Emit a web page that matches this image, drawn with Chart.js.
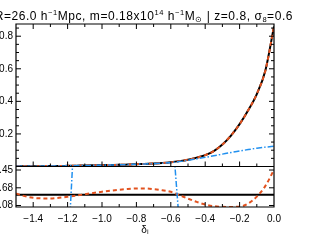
<!DOCTYPE html>
<html>
<head>
<meta charset="utf-8">
<script src="https://cdn.jsdelivr.net/npm/chart.js@4.4.1/dist/chart.umd.min.js"></script>
<style>
  html, body { margin: 0; padding: 0; background: #fff; overflow: hidden; }
  #wrap { position: absolute; left: -12px; top: 0; width: 325px; height: 248px; }
</style>
</head>
<body>
<div id="wrap"><canvas id="chart" width="325" height="248"></canvas></div>
<script>
// linear density contrast grid (x axis)
const deltaL = [-1.5, -1.45, -1.4, -1.35, -1.3, -1.25, -1.2, -1.15, -1.1, -1.05, -1.0,
  -0.95, -0.9, -0.85, -0.8, -0.75, -0.7, -0.65, -0.6, -0.55, -0.5,
  -0.45, -0.4, -0.35, -0.3, -0.25, -0.2, -0.15, -0.1, -0.05, 0];

// upper panel
const blackUpper = [0.001, 0.001, 0.002, 0.002, 0.003, 0.003, 0.004, 0.005, 0.006, 0.007, 0.008,
  0.009, 0.010, 0.012, 0.014, 0.016, 0.018, 0.021, 0.026, 0.033, 0.042,
  0.054, 0.070, 0.095, 0.135, 0.190, 0.260, 0.345, 0.445, 0.590, 0.860];
const redUpper = [0.001, 0.001, 0.002, 0.002, 0.003, 0.003, 0.004, 0.005, 0.006, 0.007, 0.008,
  0.009, 0.010, 0.012, 0.014, 0.016, 0.018, 0.021, 0.026, 0.033, 0.042,
  0.054, 0.070, 0.095, 0.135, 0.190, 0.260, 0.345, 0.445, 0.590, 0.860];
const blueUpper = [0.001, 0.001, 0.002, 0.002, 0.003, 0.003, 0.004, 0.005, 0.006, 0.007, 0.008,
  0.009, 0.010, 0.012, 0.014, 0.016, 0.018, 0.020, 0.024, 0.030, 0.038,
  0.047, 0.056, 0.066, 0.076, 0.086, 0.095, 0.104, 0.112, 0.119, 0.124];

// lower panel (residuals)
const redLower = [0.12, -0.15, -0.32, -0.37, -0.38, -0.32, -0.22, -0.10, 0.04, 0.17, 0.29,
  0.40, 0.48, 0.56, 0.61, 0.62, 0.55, 0.44, 0.28, -0.05, -0.40,
  -0.72, -0.98, -1.15, -1.21, -1.22, -1.20, -0.89, -0.20, 0.87, 2.47];
const blueLowerX = [-1.5, -1.185, -1.170, -0.578, -0.556, 0];
const blueLowerY = [-4, -1.6, 3.3, 3.3, -1.6, -4];
const zeroX = [-1.5, 0];
const zeroY = [0, 0];

// tick labels
const xTicks = [-1.4, -1.2, -1.0, -0.8, -0.6, -0.4, -0.2, 0];
const yTicksTop = [0.2, 0.4, 0.6, 0.8];
const yTicksBottom = [2.45, 0.68, -1.08];

const SHIFT = 12; // canvas is pushed left so labels get cut like the original
const RED = '#e2521f';
const BLUE = '#2190ef';
const FONT = '"Liberation Sans", Arial, Helvetica, sans-serif';

const pts = (xs, ys) => xs.map((x, i) => ({ x: x, y: ys[i] }));

// box + inward tick marks
const framePlugin = {
  id: 'frame',
  afterDatasetsDraw(chart) {
    const { ctx } = chart;
    const { x, y, y2 } = chart.scales;
    const L = x.left, R = x.right;
    ctx.save();
    ctx.strokeStyle = '#000';
    ctx.lineWidth = 1.2;
    ctx.beginPath();
    ctx.rect(L, y.top, R - L, y.bottom - y.top);
    ctx.rect(L, y2.top, R - L, y2.bottom - y2.top);
    ctx.stroke();

    ctx.lineWidth = 1;
    ctx.beginPath();
    for (let k = -14; k <= -1; k++) {
      const px = x.getPixelForValue(k / 10);
      const len = k % 2 === 0 ? 5 : 3;
      ctx.moveTo(px, y.top); ctx.lineTo(px, y.top + len);
      ctx.moveTo(px, y.bottom); ctx.lineTo(px, y.bottom - len);
      ctx.moveTo(px, y2.bottom); ctx.lineTo(px, y2.bottom - len);
    }
    for (let k = 1; k <= 17; k++) {
      const py = y.getPixelForValue(k * 0.05);
      const len = k % 4 === 0 ? 5 : 3;
      ctx.moveTo(L, py); ctx.lineTo(L + len, py);
      ctx.moveTo(R, py); ctx.lineTo(R - len, py);
    }
    yTicksBottom.forEach(v => {
      const py = y2.getPixelForValue(v);
      ctx.moveTo(L, py); ctx.lineTo(L + 5, py);
      ctx.moveTo(R, py); ctx.lineTo(R - 5, py);
    });
    ctx.stroke();
    ctx.restore();
  }
};

// title with super/subscripts
const titleParts = [
  ['R=26.0 h', ''], ['\u22121', 'sup'], ['Mpc, m=0.18x10', ''], ['14', 'sup'],
  [' h', ''], ['\u22121', 'sup'], ['M', ''], ['\u2299', 'sub'],
  [' | z=0.8, \u03c3', ''], ['8', 'sub'], ['=0.6', '']
];
const titlePlugin = {
  id: 'richTitle',
  afterDraw(chart) {
    const ctx = chart.ctx;
    const big = '12px ' + FONT, small = '7.5px ' + FONT;
    ctx.save();
    ctx.letterSpacing = '0.55px';
    let w = 0;
    titleParts.forEach(p => { ctx.font = p[1] ? small : big; w += ctx.measureText(p[0]).width; });
    let xPos = 293 + SHIFT - w;
    const base = 20;
    ctx.fillStyle = '#000';
    ctx.textBaseline = 'alphabetic';
    titleParts.forEach(p => {
      ctx.font = p[1] ? small : big;
      const yy = p[1] === 'sup' ? base - 5 : p[1] === 'sub' ? base + 2 : base;
      ctx.fillText(p[0], xPos, yy);
      xPos += ctx.measureText(p[0]).width;
    });
    ctx.restore();
  }
};

const tickFont = { family: FONT, size: 10 };
const noGrid = { display: false, drawTicks: false, tickLength: 0 };

new Chart(document.getElementById('chart'), {
  type: 'line',
  data: {
    datasets: [
      { data: pts(deltaL, blueUpper), yAxisID: 'y', borderColor: BLUE, borderWidth: 1.5, borderDash: [6, 2, 1.5, 2], order: 1 },
      { data: pts(deltaL, redUpper), yAxisID: 'y', borderColor: RED, borderWidth: 2, borderDash: [4, 3], order: 2 },
      { data: pts(deltaL, blackUpper), yAxisID: 'y', borderColor: '#000', borderWidth: 2, order: 3 },
      { data: pts(blueLowerX, blueLowerY), yAxisID: 'y2', borderColor: BLUE, borderWidth: 1.5, borderDash: [6, 2, 1.5, 2], tension: 0, cubicInterpolationMode: 'default', order: 4 },
      { data: pts(deltaL, redLower), yAxisID: 'y2', borderColor: RED, borderWidth: 2, borderDash: [4, 3], order: 5 },
      { data: pts(zeroX, zeroY), yAxisID: 'y2', borderColor: '#000', borderWidth: 2, order: 6 }
    ]
  },
  options: {
    responsive: false,
    animation: false,
    devicePixelRatio: 1,
    layout: { padding: { left: 0, right: 39, top: 24, bottom: 0 } },
    plugins: { legend: { display: false }, tooltip: { enabled: false }, title: { display: false } },
    elements: { point: { radius: 0 }, line: { cubicInterpolationMode: 'monotone' } },
    scales: {
      x: {
        type: 'linear', min: -1.5, max: 0,
        grid: noGrid, border: { display: false },
        afterBuildTicks: s => { s.ticks = xTicks.map(v => ({ value: v })); },
        afterFit: s => { s.height = 41; },
        ticks: {
          font: tickFont, color: '#000', padding: 6, maxRotation: 0, autoSkip: false,
          callback: v => v === 0 ? '0.0' : '\u2212' + Math.abs(v).toFixed(1)
        },
        title: { display: true, text: '\u03b4\u2097', font: { family: FONT, size: 10 }, color: '#000', padding: { top: 0, bottom: 12 } }
      },
      y: {
        type: 'linear', position: 'left', stack: 'panels', stackWeight: 142.5, weight: 2,
        min: 0, max: 0.875,
        grid: noGrid, border: { display: false },
        afterBuildTicks: s => { s.ticks = yTicksTop.map(v => ({ value: v })); },
        afterFit: s => { s.width = 28; },
        ticks: { font: tickFont, color: '#000', padding: 3, autoSkip: false, callback: v => v.toFixed(1) }
      },
      y2: {
        type: 'linear', position: 'left', stack: 'panels', stackWeight: 40.5, weight: 1,
        min: -1.23, max: 2.80,
        grid: noGrid, border: { display: false },
        afterBuildTicks: s => { s.ticks = yTicksBottom.map(v => ({ value: v })); },
        afterFit: s => { s.width = 28; },
        ticks: { font: tickFont, color: '#000', padding: 3, autoSkip: false, callback: v => v.toFixed(2) }
      }
    }
  },
  plugins: [framePlugin, titlePlugin]
});
</script>
</body>
</html>
